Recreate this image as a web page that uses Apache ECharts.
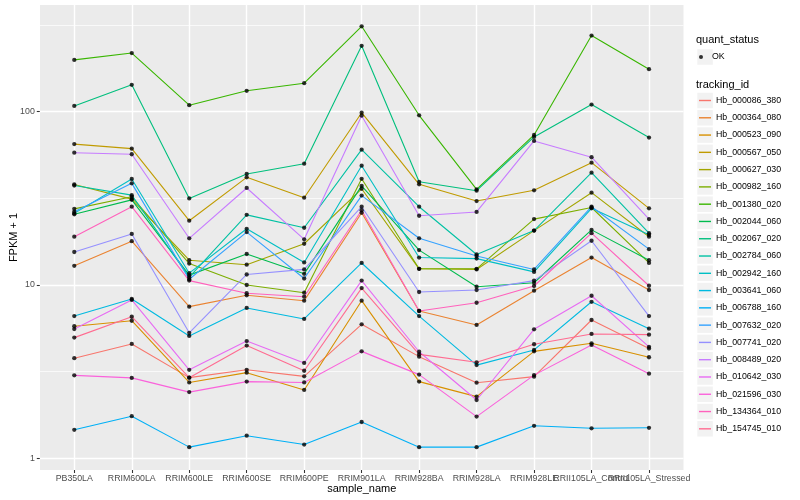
<!DOCTYPE html>
<html><head><meta charset="utf-8">
<script src="https://cdn.jsdelivr.net/npm/echarts@6/dist/echarts.min.js"></script>
<style>html,body{margin:0;padding:0;background:#fff}#c{width:800px;height:500px}</style>
</head><body><div id="c"></div>
<script>
// ---------------- data ----------------
const categories = ['PB350LA','RRIM600LA','RRIM600LE','RRIM600SE','RRIM600PE','RRIM901LA','RRIM928BA','RRIM928LA','RRIM928LE','RRII105LA_Control','RRII105LA_Stressed'];
const yTickValues = [1, 10, 100];
const yMinorValues = [Math.sqrt(10), 10 * Math.sqrt(10), 100 * Math.sqrt(10)];
const quantStatus = ['OK'];

const Hb_000086_380 = [3.78, 4.57, 2.92, 3.24, 2.97, 5.93, 3.86, 2.73, 2.96, 6.28, 4.3];
const Hb_000364_080 = [12.9, 17.9, 7.5, 8.72, 8.12, 26.1, 7.08, 5.88, 9.27, 14.4, 9.36];
const Hb_000523_090 = [5.78, 6.22, 2.74, 3.12, 2.48, 8.12, 2.77, 2.27, 4.14, 4.61, 3.83];
const Hb_000567_050 = [65, 61.2, 23.5, 41.8, 31.9, 98.7, 38.1, 30.5, 35.2, 50.8, 27.7];
const Hb_000627_030 = [38.0, 31.3, 13.9, 13.1, 17.3, 35.9, 12.4, 12.3, 20.6, 34.1, 19.0];
const Hb_000982_160 = [27.5, 32.3, 13.3, 10.0, 9.03, 41.0, 12.4, 12.4, 24.0, 28.0, 13.4];
const Hb_001380_020 = [199, 218, 109, 132, 146, 311, 95.3, 35.6, 73.4, 275, 176];
const Hb_002044_060 = [25.6, 31.0, 11.4, 15.1, 11.6, 37.3, 15.9, 9.78, 10.3, 20.8, 13.9];
const Hb_002067_020 = [108, 143, 31.6, 43.7, 50.1, 240, 39.4, 35.0, 71.5, 110, 70.9];
const Hb_002784_060 = [37.5, 33.0, 11.1, 25.4, 21.4, 60.4, 28.3, 15.0, 20.6, 44.5, 19.9];
const Hb_002942_160 = [25.9, 40.9, 11.7, 21.1, 13.5, 48.8, 14.4, 14.2, 11.9, 27.7, 19.5];
const Hb_003641_060 = [6.62, 8.3, 5.08, 7.37, 6.37, 13.4, 6.62, 3.45, 4.22, 8.0, 5.6];
const Hb_006788_160 = [1.46, 1.75, 1.16, 1.35, 1.20, 1.62, 1.16, 1.16, 1.54, 1.49, 1.50];
const Hb_007632_020 = [26.5, 38.6, 10.8, 20.2, 10.9, 32.8, 18.6, 14.7, 12.3, 28.3, 16.1];
const Hb_007741_020 = [15.5, 19.7, 5.3, 11.5, 12.3, 28.3, 9.11, 9.36, 10.6, 18.0, 6.62];
const Hb_008489_020 = [58, 56.8, 18.6, 36.3, 18.35, 94.8, 25.1, 26.4, 67.8, 54.6, 24.0];
const Hb_010642_030 = [5.57, 8.2, 3.24, 4.75, 3.55, 10.6, 4.12, 2.17, 5.55, 8.67, 4.4];
const Hb_021596_030 = [3.01, 2.91, 2.41, 2.77, 2.74, 4.14, 3.04, 1.74, 3.02, 4.51, 3.08];
const Hb_134364_010 = [19.0, 28.3, 10.6, 8.96, 8.56, 27.0, 7.08, 7.9, 9.87, 19.9, 9.9];
const Hb_154745_010 = [4.97, 6.56, 2.92, 4.47, 3.20, 9.6, 3.98, 3.58, 4.55, 5.22, 5.17];

const trackingIds = ['Hb_000086_380','Hb_000364_080','Hb_000523_090','Hb_000567_050','Hb_000627_030','Hb_000982_160','Hb_001380_020','Hb_002044_060','Hb_002067_020','Hb_002784_060','Hb_002942_160','Hb_003641_060','Hb_006788_160','Hb_007632_020','Hb_007741_020','Hb_008489_020','Hb_010642_030','Hb_021596_030','Hb_134364_010','Hb_154745_010'];
const trackingValues = [Hb_000086_380,Hb_000364_080,Hb_000523_090,Hb_000567_050,Hb_000627_030,Hb_000982_160,Hb_001380_020,Hb_002044_060,Hb_002067_020,Hb_002784_060,Hb_002942_160,Hb_003641_060,Hb_006788_160,Hb_007632_020,Hb_007741_020,Hb_008489_020,Hb_010642_030,Hb_021596_030,Hb_134364_010,Hb_154745_010];

// ---------------- style / layout ----------------
const palette = ['#F8766D','#EA8331','#D89000','#C09B00','#A3A500','#7CAE00','#39B600','#00BB4E','#00BF7D','#00C1A3','#00BFC4','#00BAE0','#00B0F6','#35A2FF','#9590FF','#C77CFF','#E76BF3','#FA62DB','#FF62BC','#FF6C91'];
const FONT = 'Liberation Sans';
const P = {left: 39.8, right: 683.5, top: 5, bottom: 470};
const Y1 = 458.3, DEC = 173.3;           // pixel of value 1, pixels per decade
const yPix = v => Y1 - DEC * Math.log10(v);
const yMin = Math.pow(10, (Y1 - P.bottom) / DEC);
const yMax = Math.pow(10, (Y1 - P.top) / DEC);
const band = (P.right - P.left) / (categories.length - 1 + 1.2);
const xFirst = P.left + 0.6 * band, xLast = P.right - 0.6 * band;

const gridRect = (l, r, t, b) => ({left: l, top: t, width: r - l, height: b - t, containLabel: false});

const okPoints = [];
trackingValues.forEach(arr => arr.forEach((v, i) => okPoints.push([i, v])));

const series = trackingIds.map((name, k) => ({
  type: 'line', name, data: trackingValues[k], xAxisIndex: 3, yAxisIndex: 3,
  symbol: 'none', showSymbol: false, z: 2, color: palette[k],
  lineStyle: {width: 1.1, color: palette[k]}, itemStyle: {color: palette[k]},
  emphasis: {disabled: true}, animation: false
}));
series.push({
  type: 'scatter', name: quantStatus[0], data: okPoints, xAxisIndex: 3, yAxisIndex: 3,
  symbol: 'circle', symbolSize: 4.3, itemStyle: {color: '#000'}, z: 3, animation: false,
  emphasis: {disabled: true}
});

const KEY = 17.28, keyX = 697.3, keyW = 15.5;
const legendTop0 = 57, trackTop0 = 100.5;
const graphics = [];
graphics.push({type: 'rect', shape: {x: keyX, y: legendTop0 - keyW / 2, width: keyW, height: keyW}, style: {fill: '#F2F2F2'}, z: -1, silent: true});
trackingIds.forEach((n, k) => graphics.push({type: 'rect', shape: {x: keyX, y: trackTop0 + k * KEY - keyW / 2, width: keyW, height: keyW}, style: {fill: '#F2F2F2'}, z: -1, silent: true}));

const option = {
  animation: false,
  textStyle: {fontFamily: FONT},
  color: palette,
  grid: [
    Object.assign(gridRect(P.left, P.right, P.top, P.bottom), {show: true, backgroundColor: '#EBEBEB', borderWidth: 0}),
    gridRect(P.left, P.right, yPix(yMinorValues[2]), yPix(yMinorValues[0])),
    gridRect(P.left, P.right, yPix(yTickValues[2]), yPix(yTickValues[0])),
    gridRect(xFirst, xLast, P.top, P.bottom)
  ],
  xAxis: [
    {gridIndex: 0, type: 'value', min: 0, max: 1, name: 'sample_name', nameLocation: 'middle', nameGap: 13,
     nameTextStyle: {fontSize: 11, color: '#000', fontFamily: FONT},
     axisLine: {show: false}, axisTick: {show: false}, axisLabel: {show: false}, splitLine: {show: false}},
    {gridIndex: 1, type: 'value', min: 0, max: 1, show: false},
    {gridIndex: 2, type: 'value', min: 0, max: 1, show: false},
    {gridIndex: 3, type: 'category', data: categories, boundaryGap: false,
     axisLine: {show: false},
     axisTick: {show: true, length: 3, interval: 0, lineStyle: {color: '#333333', width: 1.07}},
     axisLabel: {interval: 0, fontSize: 8.8, color: '#4D4D4D', margin: 4, fontFamily: FONT, hideOverlap: false},
     splitLine: {show: true, interval: 0, lineStyle: {color: '#FFFFFF', width: 1.4}}}
  ],
  yAxis: [
    {gridIndex: 0, type: 'log', min: yMin, max: yMax, name: 'FPKM + 1', nameLocation: 'middle', nameGap: 21, nameRotate: 90,
     nameTextStyle: {fontSize: 11, color: '#000', fontFamily: FONT},
     axisLine: {show: false}, axisTick: {show: false}, axisLabel: {show: false}, splitLine: {show: false}},
    // minor grid: half-decade lines (log10 = 0.5, 1.5, 2.5)
    {gridIndex: 1, type: 'value', min: 0, max: yMinorValues.length - 1, interval: 1,
     axisLine: {show: false}, axisTick: {show: false}, axisLabel: {show: false},
     splitLine: {show: true, lineStyle: {color: '#FFFFFF', width: 0.7}}},
    {gridIndex: 2, type: 'log', min: yTickValues[0], max: yTickValues[2],
     axisLine: {show: false},
     axisTick: {show: true, length: 3, lineStyle: {color: '#333333', width: 1.07}},
     axisLabel: {fontSize: 8.8, color: '#4D4D4D', margin: 5, fontFamily: FONT},
     splitLine: {show: true, lineStyle: {color: '#FFFFFF', width: 1.4}}},
    {gridIndex: 3, type: 'log', min: yMin, max: yMax, show: false}
  ],
  title: [
    {text: 'quant_status', left: 696, top: 34.5, padding: 0, textStyle: {fontSize: 11, fontWeight: 'normal', color: '#000', fontFamily: FONT}},
    {text: 'tracking_id', left: 696, top: 79, padding: 0, textStyle: {fontSize: 11, fontWeight: 'normal', color: '#000', fontFamily: FONT}}
  ],
  legend: [
    {data: quantStatus, orient: 'vertical', left: 699, top: legendTop0 - KEY / 2, padding: 0, itemGap: 0,
     itemWidth: 12, itemHeight: 4, icon: 'circle', selectedMode: false,
     textStyle: {fontSize: 8.8, color: '#000', lineHeight: KEY, fontFamily: FONT}},
    {data: trackingIds, orient: 'vertical', left: 699, top: trackTop0 - KEY / 2, padding: 0, itemGap: 0,
     itemWidth: 12, itemHeight: 1.4, icon: 'rect', selectedMode: false,
     textStyle: {fontSize: 8.8, color: '#000', lineHeight: KEY, fontFamily: FONT}}
  ],
  graphic: graphics,
  series
};

const chart = echarts.init(document.getElementById('c'), null, {renderer: 'canvas'});
chart.setOption(option);
</script>
</body></html>
